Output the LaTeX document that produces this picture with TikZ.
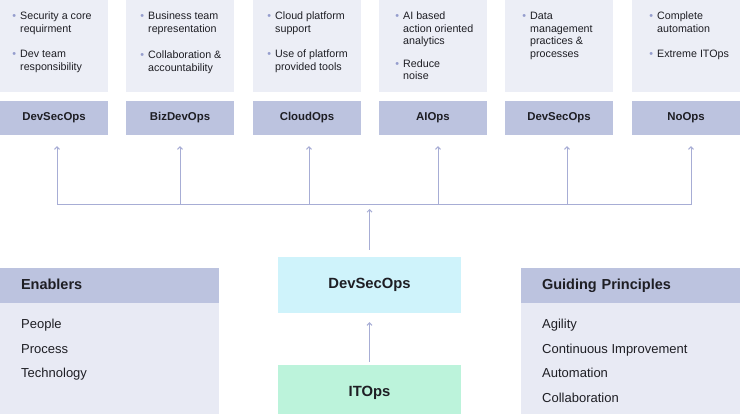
\documentclass[tikz,border=0pt]{standalone}
\usepackage{fontspec}
\setmainfont{Liberation Sans}
\usetikzlibrary{arrows.meta}

\definecolor{panel}{HTML}{ECEEF6}
\definecolor{bar}{HTML}{BCC3DF}
\definecolor{wire}{HTML}{A7ADD5}
\definecolor{dot}{HTML}{959DCD}
\definecolor{cyanbox}{HTML}{CFF3FB}
\definecolor{greenbox}{HTML}{BCF3DB}
\definecolor{listbody}{HTML}{E8EAF4}
\definecolor{ink}{HTML}{1E1E24}
\newcommand{\bul}{\llap{\textcolor{dot}{\textbullet}\hspace{4pt}}}

\begin{document}
\begin{tikzpicture}[x=1pt,y=-1pt,text=ink,
    panel node/.style={rectangle,fill=panel,minimum width=108pt,minimum height=92pt,inner sep=0pt},
    ops node/.style={rectangle,fill=bar,minimum width=108pt,minimum height=34pt,inner sep=0pt,text height=8.5pt,text depth=2.5pt,font=\bfseries\fontsize{11.4}{13}\selectfont},
    point text/.style={anchor=north west,align=left,inner sep=0pt,font=\fontsize{10.7}{12.5}\selectfont},
    core node/.style={rectangle,minimum width=183pt,minimum height=56pt,inner sep=0pt,font=\bfseries\fontsize{14.8}{17}\selectfont},
    head node/.style={rectangle,fill=bar,minimum height=35pt,text width=177pt,inner xsep=21pt,inner ysep=0pt,align=left,text height=10.5pt,text depth=3pt,font=\bfseries\fontsize{14.5}{17}\selectfont},
    list body/.style={rectangle,fill=listbody,minimum width=219pt,minimum height=120pt,inner sep=0pt},
    list text/.style={anchor=north west,align=left,inner sep=0pt,font=\fontsize{13}{24.5}\selectfont},
    wire line/.style={draw=wire,line width=1pt},
    wire arrow/.style={wire line,-{Straight Barb[length=2.5pt,width=5pt]}}]
    \useasboundingbox (0,0) rectangle (740,414);

    % top row
    \node[panel node] at (54, 46) (p1) {};
    \node[panel node] at (180, 46) (p2) {};
    \node[panel node] at (307, 46) (p3) {};
    \node[panel node] at (433, 46) (p4) {};
    \node[panel node] at (559, 46) (p5) {};
    \node[panel node] at (686, 46) (p6) {};

    \node[point text] at (20, 12) (t1) {\bul Security a core\\requirment\\[13pt]\bul Dev team\\responsibility};
    \node[point text] at (148, 12) (t2) {\bul Business team\\representation\\[14pt]\bul Collaboration \&\\accountability};
    \node[point text] at (275, 12) (t3) {\bul Cloud platform\\support\\[13pt]\bul Use of platform\\provided tools};
    \node[point text] at (403, 12) (t4) {\bul AI based\\action oriented\\analytics\\[10pt]\bul Reduce\\noise};
    \node[point text] at (530, 12) (t5) {\bul Data\\management\\practices \&\\processes};
    \node[point text] at (657, 12) (t6) {\bul Complete\\automation\\[13pt]\bul Extreme ITOps};

    \node[ops node] at (54, 118) (ops1) {DevSecOps};
    \node[ops node] at (180, 118) (ops2) {BizDevOps};
    \node[ops node] at (307, 118) (ops3) {CloudOps};
    \node[ops node] at (433, 118) (ops4) {AIOps};
    \node[ops node] at (559, 118) (ops5) {DevSecOps};
    \node[ops node] at (686, 118) (ops6) {NoOps};

    % middle
    \node[core node, fill=cyanbox] at (369.5, 285) (devsecops) {DevSecOps};
    \node[core node, fill=greenbox] at (369.5, 393) (itops) {ITOps};

    \node[head node] at (109.5, 286) (enablers) {Enablers};
    \node[list body] at (109.5, 363.5) (enablers body) {};
    \node[list text] at (21, 319) (enablers list) {People\\Process\\Technology};

    \node[head node] at (630.5, 286) (principles) {Guiding Principles};
    \node[list body] at (630.5, 363.5) (principles body) {};
    \node[list text] at (542, 319) (principles list) {Agility\\Continuous Improvement\\Automation\\Collaboration};

    \coordinate (b1) at (57, 205);
    \coordinate (b2) at (180, 205);
    \coordinate (b3) at (309, 205);
    \coordinate (hub) at (369.5, 205);
    \coordinate (b4) at (438, 205);
    \coordinate (b5) at (567, 205);
    \coordinate (b6) at (691, 205);

    \draw[wire line] (b1) -- (b6);
    \path[every edge/.style={draw,wire arrow,shorten >=11pt}]
        (b1) edge (b1 |- ops1.south)
        (b2) edge (b2 |- ops2.south)
        (b3) edge (b3 |- ops3.south)
        (b4) edge (b4 |- ops4.south)
        (b5) edge (b5 |- ops5.south)
        (b6) edge (b6 |- ops6.south)
        ;
    \path[every edge/.style={draw,wire arrow}]
        (devsecops.north) edge[shorten <=7pt, shorten >=4pt] (hub)
        (itops.north) edge[shorten <=3pt, shorten >=9pt] (devsecops.south)
        ;
\end{tikzpicture}
\end{document}
